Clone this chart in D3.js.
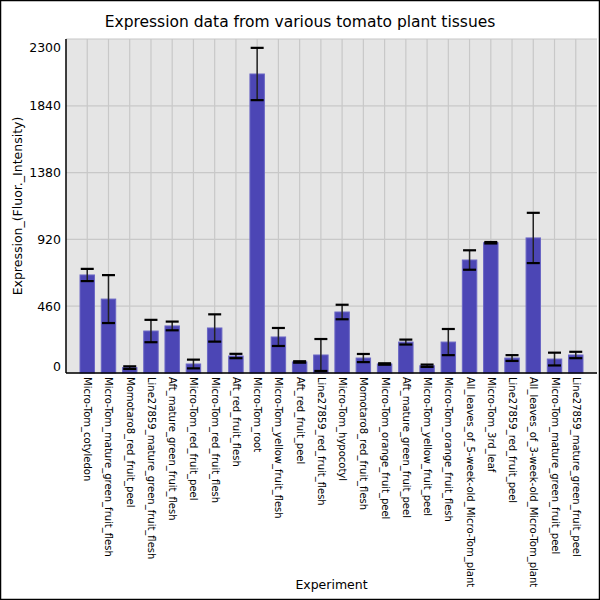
<!DOCTYPE html>
<html>
<head>
<meta charset="utf-8">
<script src="https://cdn.jsdelivr.net/npm/d3@7"></script>
<style>
  body { margin: 0; background: #fff; }
  svg { display: block; font-family: "DejaVu Sans", sans-serif; }
</style>
</head>
<body>
<div id="container"></div>
<script>
// data
const experiments = [
  "Micro-Tom_cotyledon", "Micro-Tom_mature_green_fruit_flesh", "Momotaro8_red_fruit_peel",
  "Line27859_mature_green_fruit_flesh", "Aft_mature_green_fruit_flesh", "Micro-Tom_red_fruit_peel",
  "Micro-Tom_red_fruit_flesh", "Aft_red_fruit_flesh", "Micro-Tom_root",
  "Micro-Tom_yellow_fruit_flesh", "Aft_red_fruit_peel", "Line27859_red_fruit_flesh",
  "Micro-Tom_hypocotyl", "Momotaro8_red_fruit_flesh", "Micro-Tom_orange_fruit_peel",
  "Aft_mature_green_fruit_peel", "Micro-Tom_yellow_fruit_peel", "Micro-Tom_orange_fruit_flesh",
  "All_leaves_of_5-week-old_Micro-Tom_plant", "Micro-Tom_3rd_leaf", "Line27859_red_fruit_peel",
  "All_leaves_of_3-week-old_Micro-Tom_plant", "Micro-Tom_mature_green_fruit_peel", "Line27859_mature_green_fruit_peel"
];
const expression = [675, 509, 37, 289, 324, 62, 310, 117, 2059, 248, 76, 124,
  420, 103, 62, 213, 50, 213, 778, 897, 103, 930, 96, 124];
const errors = [42, 165, 9, 77, 30, 30, 94, 15, 180, 62, 5, 110,
  50, 28, 5, 17, 8, 90, 67, 5, 20, 173, 44, 22];
const yTicks = [0, 460, 920, 1380, 1840, 2300];

const width = 600, height = 600,
  margin = { top: 39, bottom: 227, left: 66, right: 3 };

const svg = d3.select("#container")
  .append("svg")
  .attr("width", width)
  .attr("height", height);

svg.append("rect")
  .attr("x", 0.5).attr("y", 0.5)
  .attr("width", width - 1).attr("height", height - 1)
  .attr("fill", "#fff").attr("stroke", "#000").attr("stroke-width", 1.5);

const x = d3.scalePoint()
  .domain(experiments)
  .range([margin.left, width - margin.right])
  .padding(1);

const y = d3.scaleLinear()
  .domain([0, 2300])
  .range([height - margin.bottom, margin.top]);

const barW = x.step() * 0.68;

// plot background
svg.append("rect")
  .attr("x", margin.left).attr("y", margin.top)
  .attr("width", width - margin.right - margin.left)
  .attr("height", height - margin.bottom - margin.top)
  .attr("fill", "#e5e5e5");

// grid
svg.append("g")
  .selectAll("line")
  .data(yTicks)
  .join("line")
  .attr("x1", margin.left).attr("x2", width - margin.right)
  .attr("y1", d => y(d)).attr("y2", d => y(d))
  .attr("stroke", "#c8c8c8").attr("stroke-width", 1.2);

svg.append("g")
  .selectAll("line")
  .data(experiments)
  .join("line")
  .attr("x1", d => x(d)).attr("x2", d => x(d))
  .attr("y1", margin.top).attr("y2", height - margin.bottom)
  .attr("stroke", "#c8c8c8").attr("stroke-width", 1.2);

// bars
svg.append("g")
  .selectAll("rect")
  .data(experiments)
  .join("rect")
  .attr("x", d => x(d) - barW / 2)
  .attr("width", barW)
  .attr("y", (d, i) => y(expression[i]))
  .attr("height", (d, i) => y(0) - y(expression[i]))
  .attr("fill", "#4c46b5")
  .attr("stroke", "#6a66c4")
  .attr("stroke-width", 1);

// error bars
const eb = svg.append("g")
  .selectAll("g")
  .data(experiments)
  .join("g");

eb.append("line")
  .attr("x1", d => x(d)).attr("x2", d => x(d))
  .attr("y1", (d, i) => y(expression[i] + errors[i]))
  .attr("y2", (d, i) => y(Math.max(0, expression[i] - errors[i])))
  .attr("stroke", "#222").attr("stroke-width", 1.5);

eb.selectAll("line.cap")
  .data((d, i) => [
    { c: x(d), v: expression[i] + errors[i] },
    { c: x(d), v: Math.max(0, expression[i] - errors[i]) }
  ])
  .join("line")
  .attr("class", "cap")
  .attr("x1", d => d.c - 6.5).attr("x2", d => d.c + 6.5)
  .attr("y1", d => y(d.v)).attr("y2", d => y(d.v))
  .attr("stroke", "#000").attr("stroke-width", 2.2);

// axes
svg.append("g")
  .attr("transform", `translate(0,${height - margin.bottom})`)
  .call(d3.axisBottom(x).tickSize(0).tickPadding(0))
  .call(g => g.select(".domain").attr("stroke", "#000").attr("stroke-width", 1.5)
    .attr("d", `M${margin.left},0H${width - margin.right}`))
  .selectAll("text")
  .attr("transform", "rotate(90)")
  .attr("text-anchor", "start")
  .attr("x", 4)
  .attr("y", 0)
  .attr("dy", "0.35em")
  .attr("fill", "#000")
  .style("font-size", "10px")
  .style("font-family", "DejaVu Sans");

svg.append("g")
  .attr("transform", `translate(${margin.left},0)`)
  .call(d3.axisLeft(y).tickValues(yTicks).tickFormat(d3.format("d")).tickSize(0).tickPadding(5))
  .call(g => g.select(".domain").attr("stroke", "#000").attr("stroke-width", 1.5)
    .attr("d", `M0,${margin.top}V${height - margin.bottom}`))
  .selectAll("text")
  .attr("fill", "#000")
  .attr("dy", d => d === 0 ? "-0.2em" : d === 2300 ? "1em" : "0.32em")
  .style("font-size", "12.5px")
  .style("font-family", "DejaVu Sans");

// titles
svg.append("text")
  .attr("x", 300).attr("y", 27)
  .attr("text-anchor", "middle")
  .style("font-size", "15.5px")
  .text("Expression data from various tomato plant tissues");

svg.append("text")
  .attr("x", (margin.left + width - margin.right) / 2).attr("y", 589)
  .attr("text-anchor", "middle")
  .style("font-size", "12.5px")
  .text("Experiment");

svg.append("text")
  .attr("transform", `translate(22,${(margin.top + height - margin.bottom) / 2}) rotate(-90)`)
  .attr("text-anchor", "middle")
  .style("font-size", "12.5px")
  .text("Expression_(Fluor._Intensity)");
</script>
</body>
</html>
